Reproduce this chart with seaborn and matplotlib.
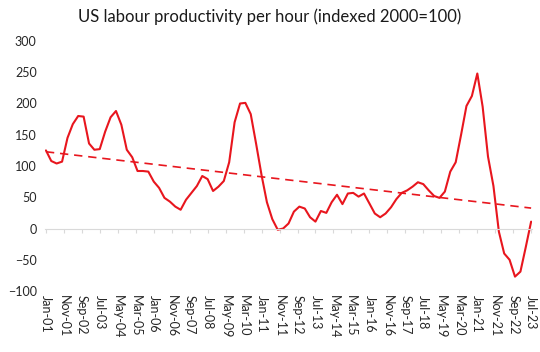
import numpy as np
import pandas as pd
import seaborn as sns
import matplotlib.pyplot as plt
import matplotlib.dates as mdates

# quarterly readings, Jan-01 .. Jul-23
start = '2001-01-01'
end = '2023-07-01'
productivity = [
    125, 108, 104, 107, 145, 167, 180, 179, 136, 126,
    127, 155, 178, 188, 166, 126, 114, 92, 92, 91,
    75, 65, 49, 43, 35, 30, 46, 57, 68, 84,
    79, 60, 67, 76, 106, 170, 200, 201, 183, 135,
    85, 42, 15, -2, 0, 8, 27, 35, 32, 18,
    11, 28, 25, 42, 54, 39, 56, 57, 51, 56,
    40, 24, 18, 24, 34, 47, 57, 61, 67, 74,
    71, 61, 52, 49, 59, 91, 106, 150, 196, 212,
    248, 195, 115, 68, -5, -40, -50, -77, -69, -30,
    11,
]
title = 'US labour productivity per hour (indexed 2000=100)'
y_ticks = [-100, -50, 0, 50, 100, 150, 200, 250, 300]

dates = pd.date_range(start, end, freq='QS')
df = pd.DataFrame({'date': dates, 'value': productivity})

# linear trend over the series
t = np.arange(len(df))
slope, icpt = np.polyfit(t, df['value'], 1)
df['trend'] = icpt + slope * t

sns.set_theme(style='white')
plt.rcParams['font.family'] = ['Lato', 'DejaVu Sans']

red = '#e8161e'
fig = plt.figure(figsize=(5.4, 3.52), dpi=100)
ax = fig.add_axes([45 / 540, 1 - 291 / 352, 487 / 540, 250 / 352])

sns.lineplot(data=df, x='date', y='value', color=red, linewidth=1.5, ax=ax)
sns.lineplot(data=df, x='date', y='trend', color=red, linewidth=1.2,
             linestyle=(0, (5, 3.5)), ax=ax)

ax.set_ylim(-100, 300)
ax.set_yticks(y_ticks)
ax.set_xlim(pd.Timestamp('2000-12-16'), pd.Timestamp('2023-07-16'))
ax.set_xlabel('')
ax.set_ylabel('')
ax.tick_params(axis='y', length=0, labelsize=9, labelcolor='#262626', pad=6)

for s in ['top', 'right', 'left']:
    ax.spines[s].set_visible(False)
ax.spines['bottom'].set_position(('data', 0))
ax.spines['bottom'].set_color('#d9d9d9')
ax.spines['bottom'].set_linewidth(0.8)

ticks = pd.date_range(start, end, freq='10MS')
ax.set_xticks(ticks)
ax.tick_params(axis='x', direction='out', length=3, width=0.8,
               color='#d9d9d9', labelbottom=False, bottom=True)

sec = ax.secondary_xaxis('bottom')
sec.set_xticks(ticks)
sec.xaxis.set_major_formatter(mdates.DateFormatter('%b-%y'))
sec.tick_params(length=0, labelsize=9, labelcolor='#262626', pad=3)
sec.spines['bottom'].set_visible(False)
for lbl in sec.get_xticklabels():
    lbl.set_rotation(-90)

fig.suptitle(title, x=0.5, y=0.975, fontsize=12, color='#1a1a1a')

fig.savefig('out.png', dpi=100)
